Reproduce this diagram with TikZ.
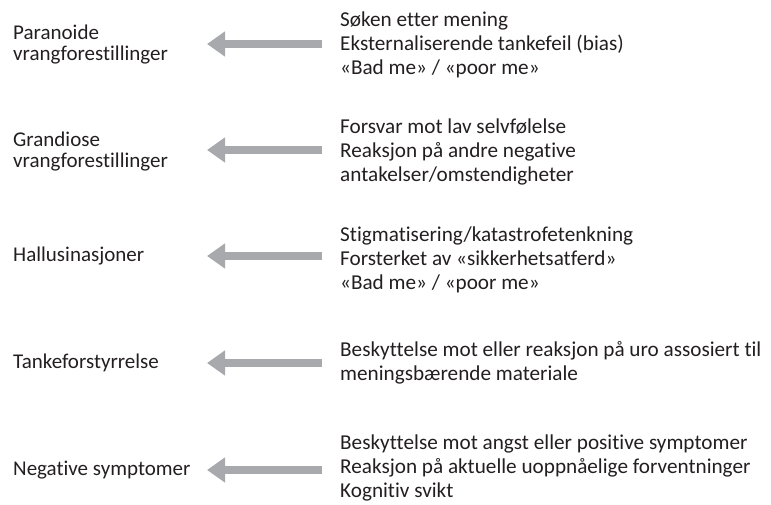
\documentclass[tikz,border=0pt]{standalone}
\usepackage{fontspec}
\setmainfont{Carlito}[Ligatures=NoCommon]
\usetikzlibrary{arrows.meta}

\definecolor{inkgray}{RGB}{35,31,32}
\definecolor{arrowgray}{RGB}{168,169,172}

\begin{document}
\begin{tikzpicture}[x=1pt,y=-1pt,
  symptom/.style={anchor=west,align=left,inner sep=0pt,text=inkgray,
    font=\fontsize{21}{21}\selectfont},
  cause/.style={anchor=west,align=left,inner sep=0pt,text=inkgray,
    font=\fontsize{21.2}{24}\selectfont},
  fatarrow/.style={arrowgray,line width=8pt,
    -{Triangle[length=18pt,width=24pt]}}]
  \useasboundingbox (0,0) rectangle (771,505);

  % symptoms on the left
  \node[symptom] (paranoid) at (13,45) {Paranoide\\vrangforestillinger};
  \node[symptom] (grandiose) at (13,152) {Grandiose\\vrangforestillinger};
  \node[symptom] (halluc) at (13,256) {Hallusinasjoner};
  \node[symptom] (thought) at (13,363) {Tankeforstyrrelse};
  \node[symptom] (negative) at (13,470) {Negative symptomer};

  % explanations on the right
  \node[cause] (meaning) at (340,45) {Søken etter mening\\Eksternaliserende tankefeil (bias)\\«Bad me» / «poor me»};
  \node[cause] (defence) at (340,152) {Forsvar mot lav selvfølelse\\Reaksjon på andre negative\\antakelser/omstendigheter};
  \node[cause] (stigma) at (340,260) {Stigmatisering/katastrofetenkning\\Forsterket av «sikkerhetsatferd»\\«Bad me» / «poor me»};
  \node[cause] (protect) at (340,363) {Beskyttelse mot eller reaksjon på uro assosiert til\\meningsbærende materiale};
  \node[cause] (anxiety) at (340,468) {Beskyttelse mot angst eller positive symptomer\\Reaksjon på aktuelle uoppnåelige forventninger\\Kognitiv svikt};

  % arrows
  \foreach \y [count=\i] in {44,150,256,363,470} {
    \coordinate (from\i) at (322,\y);
    \coordinate (to\i) at (207,\y);
    \draw[fatarrow] (from\i) -- (to\i);
  }
\end{tikzpicture}
\end{document}
